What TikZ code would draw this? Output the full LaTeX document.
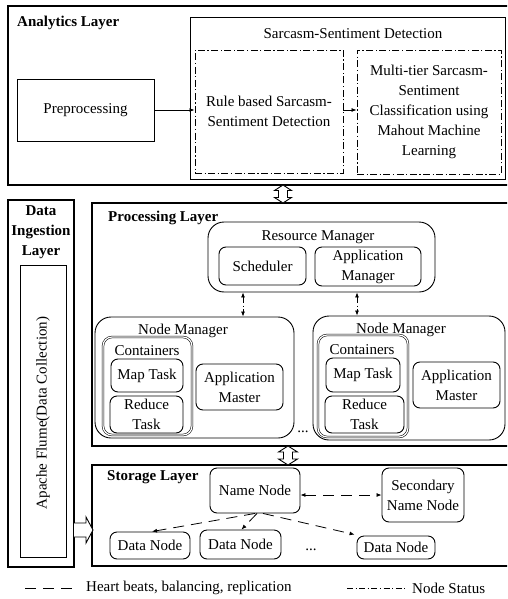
\documentclass[tikz,border=0pt]{standalone}
\usepackage{fontspec}
\setmainfont{Liberation Serif}
\usetikzlibrary{arrows.meta,calc}
\begin{document}
\begin{tikzpicture}[x=1pt,y=-1pt,
  every node/.style={font=\fontsize{15}{20}\selectfont, align=center},
  lyr/.style={draw, line width=1.1pt, rectangle, inner sep=0},
  sqbox/.style={draw, line width=0.9pt, rectangle, inner sep=2pt},
  ddbox/.style={draw, line width=0.9pt, dash pattern=on 7pt off 2.5pt on 1.2pt off 2.5pt, inner sep=2pt},
  rbig/.style={draw, line width=0.9pt, rounded corners=16pt, inner sep=0},
  rsmall/.style={draw, line width=0.9pt, rounded corners=7pt, inner sep=2pt},
  dbl/.style={draw, line width=0.55pt, double, double distance=1.2pt, rounded corners=9pt, inner sep=0},
  ttl/.style={font=\fontsize{15}{20}\selectfont\bfseries, inner sep=0, anchor=west},
  lbl/.style={inner sep=0},
  arr/.style={-{Latex[length=5pt,width=4pt]}},
  darr/.style={{Latex[length=5pt,width=4pt]}-{Latex[length=5pt,width=4pt]}},
  ddline/.style={line width=0.8pt, dash pattern=on 6pt off 2.5pt on 1.2pt off 2.5pt},
  hbline/.style={line width=0.8pt, dash pattern=on 11pt off 7pt},
  blk/.style={draw, line width=0.9pt, fill=white}
]
\clip (0,0) rectangle (507,599);
\fill[white] (0,0) rectangle (507,599);

% ---------------- Analytics layer
\node[lyr, minimum width=512pt, minimum height=179pt] (analytics) at (264,95.5) {};
\node[ttl] (antitle) at (17,23) {Analytics Layer};
\node[sqbox, minimum width=315pt, minimum height=162pt] (ssd) at (347.5,98) {};
\node[lbl] (ssdtitle) at (353,34) {Sarcasm-Sentiment Detection};
\node[sqbox, minimum width=137pt, minimum height=62pt] (pre) at (85.5,110) {Preprocessing};
\node[ddbox, minimum width=148pt, minimum height=123pt] (rule) at (269,111.5) {Rule based Sarcasm-\\Sentiment Detection};
\node[ddbox, minimum width=144pt, minimum height=124pt] (multi) at (429,112) {Multi-tier Sarcasm-\\Sentiment\\Classification using\\Mahout Machine\\Learning};
\draw[arr, line width=0.8pt] (pre.east) -- (rule.west |- pre.east);
\draw[arr, line width=0.8pt] (rule.east |- pre.east) -- (multi.west |- pre.east);

% ---------------- Data ingestion layer
\node[lyr, minimum width=66pt, minimum height=367pt] (ingest) at (41,383.5) {};
\node[ttl, anchor=center] (intitle) at (41,232) {Data\\Ingestion\\Layer};
\node[sqbox, minimum width=46pt, minimum height=292pt] (flume) at (43,411) {};
\node[lbl, rotate=90] (flumetext) at (43,413) {Apache Flume(Data Collection)};

% ---------------- Processing layer
\node[lyr, minimum width=428pt, minimum height=243pt] (proc) at (306,324.5) {};
\node[ttl] (proctitle) at (108,218) {Processing Layer};
\node[rbig, minimum width=227pt, minimum height=70pt] (rm) at (321.5,257) {};
\node[lbl] (rmtitle) at (318,237) {Resource Manager};
\node[rsmall, minimum width=87pt, minimum height=38pt] (sched) at (262.5,266) {Scheduler};
\node[rsmall, minimum width=106pt, minimum height=39pt] (appman) at (368,266.5) {Application\\Manager};

\node[rbig, minimum width=199pt, minimum height=121pt] (nm1) at (194.5,377.5) {};
\node[lbl] (nm1title) at (183,331) {Node Manager};
\node[dbl, minimum width=89pt, minimum height=98pt] (cont1) at (147.5,386) {};
\node[lbl] (cont1title) at (147,351) {Containers};
\node[rsmall, minimum width=72pt, minimum height=33pt] (map1) at (147,375.5) {Map Task};
\node[rsmall, minimum width=73pt, minimum height=37pt] (red1) at (146.5,414.5) {Reduce\\Task};
\node[rsmall, minimum width=87pt, minimum height=46pt] (am1) at (239.5,387) {Application\\Master};
\node[lbl] (dots1) at (303,432) {...};

\node[rbig, minimum width=192pt, minimum height=124pt] (nm2) at (409,378) {};
\node[lbl] (nm2title) at (401,330) {Node Manager};
\node[dbl, minimum width=90pt, minimum height=102pt] (cont2) at (363,386) {};
\node[lbl] (cont2title) at (362,350) {Containers};
\node[rsmall, minimum width=74pt, minimum height=34pt] (map2) at (363,375) {Map Task};
\node[rsmall, minimum width=79pt, minimum height=37pt] (red2) at (364.5,414.5) {Reduce\\Task};
\node[rsmall, minimum width=87pt, minimum height=46pt] (am2) at (456.5,385) {Application\\Master};

\coordinate (ax1) at (243,0);
\coordinate (ax2) at (357,0);
\draw[darr, ddline] (rm.south -| ax1) -- (nm1.north -| ax1);
\draw[darr, ddline] (rm.south -| ax2) -- (nm2.north -| ax2);

% ---------------- Storage layer
\node[lyr, minimum width=428pt, minimum height=101pt] (storage) at (306,515.5) {};
\node[ttl] (sttitle) at (107,477) {Storage Layer};
\node[rsmall, minimum width=90pt, minimum height=45pt] (nn) at (255,490.5) {Name Node};
\node[rsmall, minimum width=82pt, minimum height=54pt] (snn) at (423,495) {Secondary\\Name Node};
\node[rsmall, minimum width=80pt, minimum height=27pt] (dn1) at (150,545.5) {Data Node};
\node[rsmall, minimum width=81pt, minimum height=29pt] (dn2) at (240.5,544.5) {Data Node};
\node[lbl] (dots2) at (311,550) {...};
\node[rsmall, minimum width=78pt, minimum height=23pt] (dn3) at (396,547.5) {Data Node};

\draw[darr, hbline] (nn.east |- snn.west) -- (snn.west);
\draw[arr, hbline] (nn.south) -- ([xshift=2pt]dn1.north);
\draw[arr, hbline] ([xshift=2pt]nn.south) -- ([xshift=1pt]dn2.north);
\draw[arr, hbline] ([xshift=8pt]nn.south) -- ([xshift=-2pt,yshift=1pt]dn3.north west);

% ---------------- block arrows between layers
\coordinate (ba1) at (283,185);
\draw[blk] (ba1) -- ++(8.5,5.5) -- ++(-4,0) -- ++(0,7) -- ++(4,0) -- ++(-8.5,5.5)
  -- ++(-8.5,-5.5) -- ++(4,0) -- ++(0,-7) -- ++(-4,0) -- cycle;
\coordinate (ba2) at (288,446);
\draw[blk] (ba2) -- ++(9.5,6) -- ++(-5,0) -- ++(0,7) -- ++(5,0) -- ++(-9.5,6)
  -- ++(-9.5,-6) -- ++(5,0) -- ++(0,-7) -- ++(-5,0) -- cycle;
\coordinate (ba3) at (74,530);
\draw[blk] (ba3) ++(0,-7) -- ++(12,0) -- ++(0,-6) -- ++(7,13) -- ++(-7,13) -- ++(0,-6) -- ++(-12,0);

% ---------------- legend
\coordinate (l1a) at (25,588);
\coordinate (l1b) at (78,588);
\draw[hbline] (l1a) -- (l1b);
\node[lbl, anchor=west] (leg1) at (86,588) {Heart beats, balancing, replication};
\coordinate (l2a) at (347,588);
\coordinate (l2b) at (405,588);
\draw[ddline] (l2a) -- (l2b);
\node[lbl, anchor=west] (leg2) at (412,588) {Node Status};
\end{tikzpicture}
\end{document}
